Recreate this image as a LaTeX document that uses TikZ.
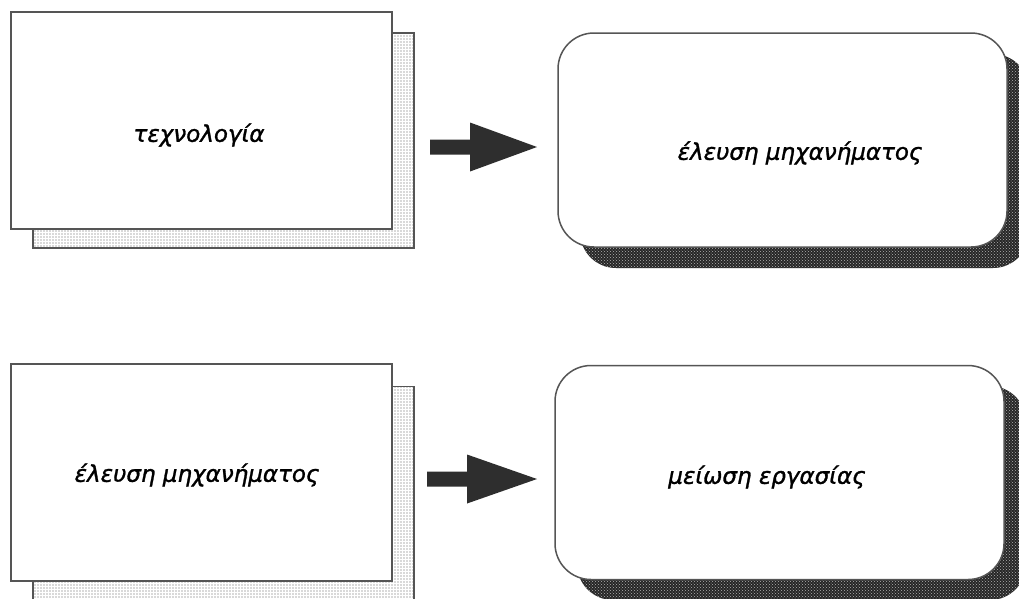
\documentclass[tikz,border=0pt]{standalone}
\usepackage{fontspec}
\setmainfont{DejaVu Sans}
\newfontfamily\lblfont[FakeBold=1.3]{DejaVu Sans}
\usetikzlibrary{patterns,calc}
\definecolor{arrowgray}{HTML}{2E2E2E}
\definecolor{edgegray}{HTML}{555555}
\tikzset{
  frontbox/.style={draw=edgegray, line width=2pt, fill=white, minimum width=381pt, minimum height=217pt, inner sep=0pt},
  backbox/.style={draw=edgegray, line width=1.6pt, preaction={fill=gray!30}, preaction={pattern=grid, pattern color=white}, minimum width=381pt, minimum height=215pt, inner sep=0pt},
  roundbox/.style={draw=edgegray, line width=1.5pt, fill=white, rounded corners=36pt, minimum width=449pt, minimum height=214pt, inner sep=0pt},
  shadowbox/.style={preaction={fill=black!85}, preaction={pattern=crosshatch dots, pattern color=white!70!black}, rounded corners=36pt, minimum width=449pt, minimum height=214pt, inner sep=0pt},
  lbl/.style={font=\lblfont\fontsize{23}{26}\selectfont\itshape, inner sep=0pt},
  fatarrow/.style={fill=arrowgray, draw=none},
}
\newcommand\mkfatarrow[2]{%
  \fill[fatarrow] ($(#1)+(0,-7.5)$) -- ($(#1)+(40,-7.5)$) -- ($(#1)+(40,-24.5)$) -- (#2) -- ($(#1)+(40,24.5)$) -- ($(#1)+(40,7.5)$) -- ($(#1)+(0,7.5)$) -- cycle;}
\begin{document}
\begin{tikzpicture}[x=1pt,y=-1pt]
\useasboundingbox (0,0) rectangle (1019,598);
\clip (0,0) rectangle (1019,598);
\fill[white] (0,0) rectangle (1019,598);
% top row
\node[backbox] (b1back) at (223.5,140.5) {};
\node[frontbox] (b1) at (201.5,120.5) {};
\node[lbl] (t1) at (199,135) {τεχνολογία};
\node[shadowbox] (r1shadow) at (804.5,161) {};
\node[roundbox] (r1) at (782.5,140) {};
\node[lbl] (t2) at (800,153) {έλευση μηχανήματος};
% bottom row
\node[backbox] (b2back) at (223.5,494) {};
\node[frontbox] (b2) at (201.5,472.5) {};
\node[lbl] (t3) at (197,475) {έλευση μηχανήματος};
\node[shadowbox] (r2shadow) at (801.5,493) {};
\node[roundbox] (r2) at (779.5,472.5) {};
\node[lbl] (t4) at (767,477) {μείωση εργασίας};
% arrows
\coordinate (a1s) at (430,147);
\coordinate (a1e) at (537,147);
\coordinate (a2s) at (427,479);
\coordinate (a2e) at (537,479);
\mkfatarrow{a1s}{a1e}
\mkfatarrow{a2s}{a2e}
\end{tikzpicture}
\end{document}
